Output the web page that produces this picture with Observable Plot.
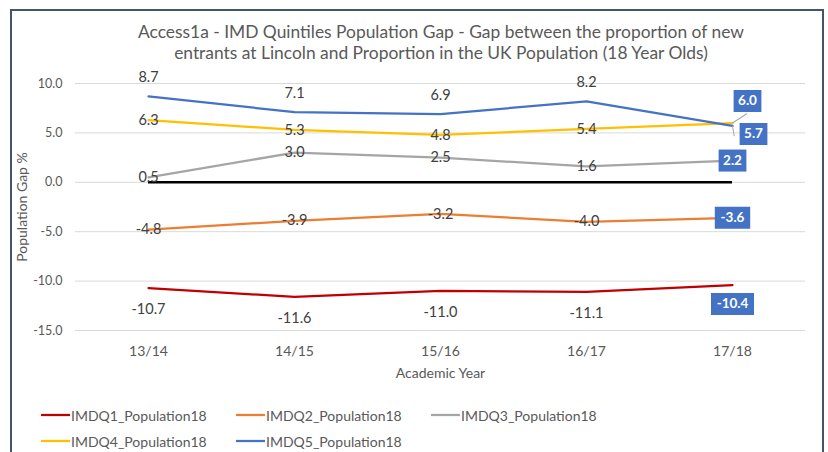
<!DOCTYPE html>
<html>
<head>
<meta charset="utf-8">
<script src="https://cdn.jsdelivr.net/npm/d3@7"></script>
<script src="https://cdn.jsdelivr.net/npm/@observablehq/plot@0.6"></script>
<style>
  body { margin: 0; background: #fff; font-family: Lato, "Open Sans", sans-serif; }
  #frame { position: absolute; left: 10px; top: 9px; width: 814px; height: 470px; border: 2px solid #44546A; box-sizing: border-box; }
  #title { position: absolute; left: 41px; top: 21px; width: 800px; text-align: center; color: #595959; font-size: 17.4px; line-height: 21px; }
  #chart { position: absolute; left: 0; top: 0; }
  #legend { position: absolute; left: 41px; top: 404px; width: 600px; display: grid; grid-template-columns: 195px 195px 195px; row-gap: 4px; color: #595959; font-size: 14px; }
  .item { display: flex; align-items: center; height: 22px; }
  .item svg { margin-right: 1px; }
</style>
</head>
<body>
<div id="frame"></div>
<div id="title">Access1a - IMD Quintiles Population Gap - Gap between the proportion of new<br>entrants at Lincoln and Proportion in the UK Population (18 Year Olds)</div>
<div id="chart"></div>
<div id="legend"></div>
<script>
const years = ["13/14", "14/15", "15/16", "16/17", "17/18"];
const seriesNames = ["IMDQ1_Population18", "IMDQ2_Population18", "IMDQ3_Population18", "IMDQ4_Population18", "IMDQ5_Population18"];
const seriesColors = ["#C00000", "#ED7D31", "#A5A5A5", "#FFC000", "#4472C4"];
const q1 = [-10.7, -11.6, -11.0, -11.1, -10.4];
const q2 = [-4.8, -3.9, -3.2, -4.0, -3.6];
const q3 = [0.5, 3.0, 2.5, 1.6, 2.2];
const q4 = [6.3, 5.3, 4.8, 5.4, 6.0];
const q5 = [8.7, 7.1, 6.9, 8.2, 5.7];
const yTicks = [-15, -10, -5, 0, 5, 10];

const allSeries = [q1, q2, q3, q4, q5];
const rows = [];
allSeries.forEach((vals, si) => vals.forEach((v, i) => rows.push({series: seriesNames[si], idx: si, year: years[i], last: i === years.length - 1, value: v})));
const lbl = d => d.value.toFixed(1);

// label placement (style): Q1 below, Q5 above, others centred
const inner = rows.filter(d => !d.last);
const lastRows = rows.filter(d => d.last);
const boxStyle = [ // per series: dx, dy of the last-point data label box
  {dx: 0, dy: 19}, {dx: 0, dy: 0}, {dx: 0, dy: 0}, {dx: 15, dy: -22}, {dx: 21, dy: 8}
];
const boxSym = (w, h) => ({draw(ctx) { ctx.rect(-w / 2, -h / 2, w, h); }});
const spike = {draw(ctx, l) { ctx.moveTo(0, 0); ctx.lineTo(0, -l); }};

const boxMarks = lastRows.flatMap(d => {
  const s = boxStyle[d.idx];
  const w = lbl(d).length * 7.6 + 5;
  return [
    Plot.dot([d], {x: "year", y: "value", symbol: boxSym(w, 22), fill: "#4472C4", stroke: null, dx: s.dx, dy: s.dy}),
    Plot.text([d], {x: "year", y: "value", text: lbl, fill: "white", fontWeight: "bold", fontSize: 13.5, dx: s.dx, dy: s.dy})
  ];
});

const chart = Plot.plot({
  width: 828,
  height: 395,
  marginLeft: 75,
  marginRight: 23,
  marginTop: 83,
  marginBottom: 65,
  style: {fontFamily: "Lato, sans-serif", background: "transparent", overflow: "visible"},
  x: {type: "point", domain: years, padding: 0.5, label: null},
  y: {domain: [-15, 10], label: null},
  color: {domain: seriesNames, range: seriesColors},
  marks: [
    Plot.gridY(yTicks, {stroke: "#D9D9D9", strokeOpacity: 1, strokeWidth: 1}),
    Plot.axisY(yTicks, {tickSize: 0, tickPadding: 13, tickFormat: d => d.toFixed(1), fontSize: 12.5, fill: "#595959", label: null}),
    Plot.axisX({tickSize: 0, tickPadding: 16, fontSize: 14, fill: "#595959", label: null}),
    Plot.text(["Academic Year"], {frameAnchor: "bottom", dy: 47, fontSize: 14, fill: "#595959"}),
    Plot.text(["Population Gap %"], {frameAnchor: "left", textAnchor: "middle", dx: -53, rotate: -90, fontSize: 14, fill: "#595959"}),
    Plot.line(rows, {x: "year", y: "value", z: "series", stroke: "series", strokeWidth: 2.25}),
    Plot.ruleY([{v: 0}], {y: "v", x1: () => years[0], x2: () => years[years.length - 1], stroke: "#000", strokeWidth: 2.5}),
    Plot.text(inner.filter(d => d.idx === 4), {x: "year", y: "value", text: lbl, dy: -19, fontSize: 14.5, fill: "#404040"}),
    Plot.text(inner.filter(d => d.idx > 0 && d.idx < 4), {x: "year", y: "value", text: lbl, fontSize: 14.5, fill: "#404040"}),
    Plot.text(inner.filter(d => d.idx === 0), {x: "year", y: "value", text: lbl, dy: 21, fontSize: 14.5, fill: "#404040"}),
    Plot.vector(lastRows.filter(d => d.idx === 3), {x: "year", y: "value", length: 17, rotate: 57, anchor: "start", shape: spike, stroke: "#A6A6A6", strokeWidth: 1}),
    Plot.vector(lastRows.filter(d => d.idx === 4), {x: "year", y: "value", length: 10, rotate: 170, anchor: "start", shape: spike, stroke: "#A6A6A6", strokeWidth: 1}),
    ...boxMarks
  ]
});
document.getElementById("chart").append(chart);

const legend = document.getElementById("legend");
seriesNames.forEach((name, i) => {
  const item = document.createElement("div");
  item.className = "item";
  item.innerHTML = `<svg width="29" height="4"><line x1="0" x2="29" y1="2" y2="2" stroke="${seriesColors[i]}" stroke-width="2.25"/></svg><span>${name}</span>`;
  legend.append(item);
});
</script>
</body>
</html>
